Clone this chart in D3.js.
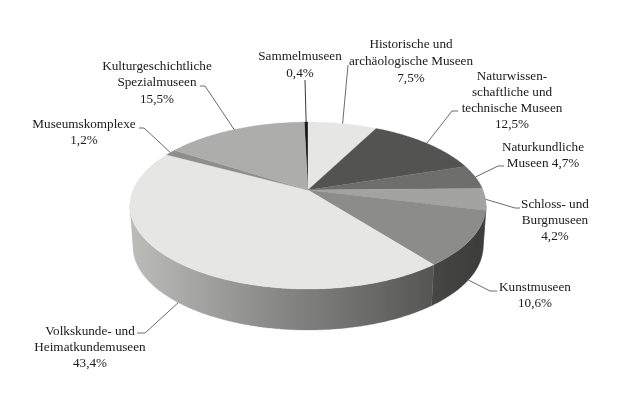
<!DOCTYPE html>
<html><head><meta charset="utf-8">
<script src="https://cdn.jsdelivr.net/npm/d3@7"></script>
<style>html,body{margin:0;padding:0;background:#fff}svg{display:block}</style></head>
<body><svg id="c" width="620" height="409"></svg>
<script>
const categories = ["Sammelmuseen","Historische und archäologische Museen","Naturwissenschaftliche und technische Museen","Naturkundliche Museen","Schloss- und Burgmuseen","Kunstmuseen","Volkskunde- und Heimatkundemuseen","Museumskomplexe","Kulturgeschichtliche Spezialmuseen"];
const values = [0.4,7.5,12.5,4.7,4.2,10.6,43.4,1.2,15.5];
const labelLines = [["Sammelmuseen","0,4%"],["Historische und","archäologische Museen","7,5%"],["Naturwissen-","schaftliche und","technische Museen","12,5%"],["Naturkundliche","Museen 4,7%"],["Schloss- und","Burgmuseen","4,2%"],["Kunstmuseen","10,6%"],["Volkskunde- und","Heimatkundemuseen","43,4%"],["Museumskomplexe","1,2%"],["Kulturgeschichtliche","Spezialmuseen","15,5%"]];
const topColors = ["#1c1c1c","#e6e6e5","#535351","#6e6e6d","#a3a3a2","#8c8c8a","#e6e6e5","#8e8e8d","#adadac"];
// label layout: centre x, first baseline, line height; leader elbow points
const labelPos = [[300,60,16.5],[411,48,17],[512,80,16],[543,151,16],[555,208,16],[535,291,16],[90,335,16],[84,128,16],[157,70,16.3]];
const leaders = [[[305,80]],[[348,65]],[[452,111],[458,111]],[[498,166],[504,166]],[[515,208],[520,208]],[[490,291],[497,291]],[[145,333],[137,333]],[[144,128],[139,128]],[[205,86],[200,86]]];
const leaderOnBottomRim = [false,false,false,false,false,true,true,false,false];

const svg = d3.select("#c");
const cx=308, cy=190, a=80.6, b=175, k=0.186, depth=41, shrink=0.983;
// perspective projection of the tilted disc
function project(t, lower){
  const u=Math.sin(t), v=-Math.cos(t), w=1-k*v;
  const x=b*u/w, y=a*v/w;
  return lower ? [cx+x*shrink, cy+y+depth] : [cx+x, cy+y];
}
const total=d3.sum(values);
const pie=d3.pie().sort(null).value(d=>d).startAngle(-values[0]/total*2*Math.PI).endAngle(2*Math.PI-values[0]/total*2*Math.PI);
const arcs=pie(values);
const line=d3.line();
function rim(s,e,lower){ const n=Math.max(2,Math.ceil((e-s)/0.01)); return d3.range(n+1).map(i=>project(s+(e-s)*i/n,lower)); }
// side wall is visible between the two silhouette angles of the projected rim
const wallStart=Math.PI-Math.acos(k), wallEnd=Math.PI+Math.acos(k);

const defs=svg.append("defs");
const blur=defs.append("filter").attr("id","soft").attr("x","-5%").attr("y","-5%").attr("width","110%").attr("height","110%");
blur.append("feGaussianBlur").attr("stdDeviation",0.35);
const grad=(id,x1,x2,stops)=>{const g=defs.append("linearGradient").attr("id",id).attr("gradientUnits","userSpaceOnUse").attr("x1",x1).attr("x2",x2).attr("y1",0).attr("y2",0);
  stops.forEach(s=>g.append("stop").attr("offset",s[0]).attr("stop-color",s[1]));};
grad("side6",130,435,[[0,"#bcbcbb"],[0.45,"#8b8b8a"],[1,"#555553"]]);
grad("side5",432,486,[[0,"#464644"],[1,"#3c3c3a"]]);

const root=svg.append("g").attr("filter","url(#soft)");
const sideFill={5:"url(#side5)",6:"url(#side6)",4:"#3c3c3a"};
// visible side walls
arcs.forEach((d,i)=>{
  if(!sideFill[i]) return;
  const s=Math.max(d.startAngle,wallStart), e=Math.min(d.endAngle,wallEnd);
  if(e<=s) return;
  root.append("path").attr("d",line(rim(s,e,false).concat(rim(s,e,true).reverse()))+"Z").attr("fill",sideFill[i]).attr("stroke",sideFill[i]).attr("stroke-width",0.3);
});
// top slices
arcs.forEach((d,i)=>{
  root.append("path").attr("d",line([[cx,cy]].concat(rim(d.startAngle,d.endAngle,false)))+"Z").attr("fill",topColors[i]).attr("stroke",topColors[i]).attr("stroke-width",0.3);
});
// leader lines
arcs.forEach((d,i)=>{
  const mid=(d.startAngle+d.endAngle)/2;
  root.append("path").attr("d",line([project(mid,leaderOnBottomRim[i])].concat(leaders[i]))).attr("fill","none").attr("stroke",i==0?"#222":"#5a5a5a").attr("stroke-width",0.9);
});
// labels
labelLines.forEach((ls,i)=>{
  const p=labelPos[i];
  const t=root.append("text").attr("text-anchor","middle").attr("font-family","'Liberation Serif',serif").attr("font-size",13.2).attr("fill","#1a1a1a");
  ls.forEach((s,j)=>t.append("tspan").attr("x",p[0]).attr("y",p[1]+j*p[2]).text(s));
});
</script></body></html>
